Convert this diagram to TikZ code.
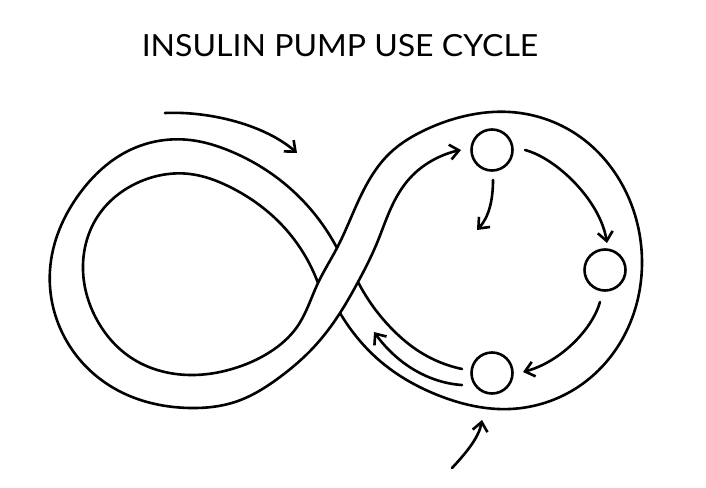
\documentclass[tikz,border=0pt]{standalone}
\usepackage{fontspec}
\setmainfont{Lato}
\usetikzlibrary{arrows.meta,hobby}
\begin{document}
\begin{tikzpicture}[x=1pt,y=-1pt,
  line width=2.6pt, line cap=round, line join=round,
  edge/.style={use Hobby shortcut},
  arr/.style={-{Straight Barb[length=9pt,width=15pt]}},
  stage/.style={draw, circle, minimum size=41pt, inner sep=0pt},
  heading/.style={font=\fontsize{30.5}{32}\selectfont, inner sep=0pt, xscale=1.05}]
\useasboundingbox (0,0) rectangle (706,487);
\node[heading] (title) at (340,46) {INSULIN PUMP USE CYCLE};
\node[stage] (T) at (492,150) {};
\node[stage] (R) at (605,270) {};
\node[stage] (B) at (492,373) {};
\coordinate (x1) at (337,248);
\coordinate (x2) at (318,283);
\coordinate (x3) at (358,282);
\coordinate (x4) at (340,313);
\coordinate (inT) at (461,150);
% outer edge of left loop, rising into the inner edge of the right loop
\draw[edge, arr] (x1) .. (280,180) .. (230,151) .. (190,140) .. (130,150) .. (80,193) .. (50,270) .. (80,360) .. (123,393) .. (190,408) .. (235,402) .. (280,377) .. (313,348) .. (x4) .. (x3) .. (377,243) .. (391,208) .. (410,178) .. (435,159) .. (inT);
% inner edge of left loop, rising into the outer edge of the right loop
\draw[edge] (x2) .. (280,223) .. (230,187) .. (190,174) .. (137,183) .. (100,213) .. (83,270) .. (97,320) .. (130,357) .. (190,375) .. (232,369) .. (270,352) .. (297,327) .. (x2) .. (x1) .. (353,213) .. (368,182) .. (390,153) .. (425,130) .. (465,116) .. (510,112) .. (576,134) .. (624,188) .. (642,262) .. (624,336) .. (578,387) .. (510,409) .. (440,396) .. (380,361) .. (352,331) .. (x4);
% inner edge of right loop, lower part
\coordinate (inB) at (462,369);
\draw[edge] (x3) .. (393,330) .. (420,352) .. (inB);
% arrows between the stages
\coordinate (outT) at (525,150);
\coordinate (toR) at (607,243);
\draw[arr] (outT) .. controls (556,158) and (600,200) .. (toR);
\coordinate (outR) at (600,302);
\coordinate (toB) at (523,372);
\draw[arr] (outR) .. controls (592,330) and (560,362) .. (toB);
\coordinate (outB) at (462,385);
\coordinate (toL) at (374,332);
\draw[arr] (outB) .. controls (430,383) and (398,365) .. (toL);
\coordinate (outTd) at (493,180);
\coordinate (downT) at (477,230);
\draw[arr] (outTd) .. controls (493,200) and (489,217) .. (downT);
% outside arrows
\coordinate (s1) at (165,113);
\coordinate (e1) at (297,153);
\draw[arr] (s1) .. controls (210,111) and (265,125) .. (e1);
\coordinate (s2) at (452,468);
\coordinate (e2) at (482,420);
\draw[arr] (s2) .. controls (467,452) and (479,437) .. (e2);
\end{tikzpicture}
\end{document}
